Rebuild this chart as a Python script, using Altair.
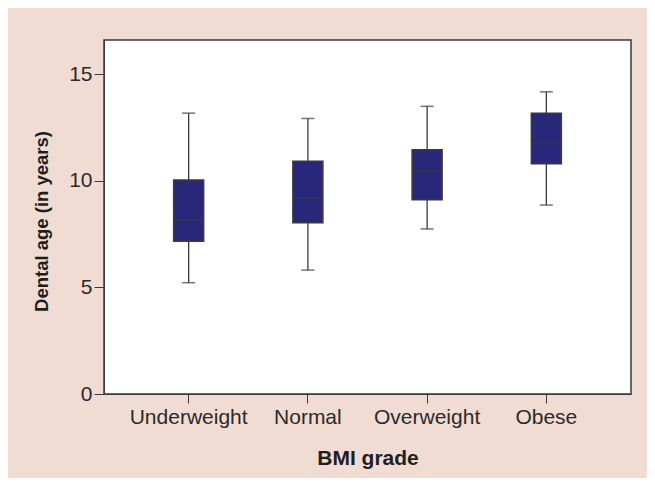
import altair as alt
import pandas as pd

categories = ["Underweight", "Normal", "Overweight", "Obese"]
whisker_low = [5.22, 5.81, 7.74, 8.86]
q1 = [7.16, 8.03, 9.11, 10.80]
median = [8.17, 9.19, 10.47, 11.75]
q3 = [10.03, 10.91, 11.45, 13.17]
whisker_high = [13.17, 12.92, 13.49, 14.17]

df = pd.DataFrame({
    "grade": categories,
    "low": whisker_low,
    "q1": q1,
    "median": median,
    "q3": q3,
    "high": whisker_high,
})

FONT = "Liberation Sans"
EDGE = "#3a3a3a"

x = alt.X(
    "grade:N",
    sort=categories,
    scale=alt.Scale(type="band", paddingInner=0, paddingOuter=0.21),
    axis=alt.Axis(
        title="BMI grade",
        labelAngle=0,
        labelFontSize=21,
        labelFont=FONT,
        labelColor="#2a2a2a",
        labelPadding=3,
        tickSize=9,
        tickColor=EDGE,
        domainColor=EDGE,
        titleFont=FONT,
        titleFontSize=21,
        titleFontWeight="bold",
        titleColor="#1e1e1e",
        titleX=263.5,
        titleY=70,
        titleBaseline="alphabetic",
        titleAlign="center",
    ),
)

yscale = alt.Scale(domain=[0, 16.6], nice=False, zero=True)
yaxis = alt.Axis(
    title="Dental age (in years)",
    values=[0, 5, 10, 15],
    grid=False,
    labelFontSize=21,
    labelFont=FONT,
    labelColor="#2a2a2a",
    labelPadding=2,
    tickSize=10,
    tickColor=EDGE,
    domainColor=EDGE,
    titleFont=FONT,
    titleFontSize=18.5,
    titleFontWeight="bold",
    titleColor="#1e1e1e",
    titleAngle=-90,
    titleX=-53,
    titleY=181,
    titleAlign="center",
    titleBaseline="bottom",
)

base = alt.Chart(df)

whisker = base.mark_rule(color=EDGE, strokeWidth=1.3).encode(
    x=x,
    y=alt.Y("low:Q", scale=yscale, axis=yaxis),
    y2="high:Q",
)

cap_low = base.mark_tick(color=EDGE, size=13, thickness=1.5).encode(
    x=x, y=alt.Y("low:Q", scale=yscale)
)
cap_high = base.mark_tick(color=EDGE, size=13, thickness=1.5).encode(
    x=x, y=alt.Y("high:Q", scale=yscale)
)

box = base.mark_bar(size=30, fill="#28277A", stroke=EDGE, strokeWidth=1.5).encode(
    x=x,
    y=alt.Y("q1:Q", scale=yscale),
    y2="q3:Q",
)

med = base.mark_tick(color=EDGE, size=30, thickness=1.8).encode(
    x=x, y=alt.Y("median:Q", scale=yscale)
)

chart = alt.layer(whisker, cap_low, cap_high, box, med).properties(
    width=527,
    height=354,
    background="#F1DCD4",
    autosize=alt.AutoSizeParams(type="none"),
    padding={"left": 96, "top": 32, "right": 16, "bottom": 84},
).configure_view(
    stroke=EDGE, strokeWidth=1.5, fill="white"
)

chart.save("out.html", embed_options={"renderer": "svg", "actions": False})
